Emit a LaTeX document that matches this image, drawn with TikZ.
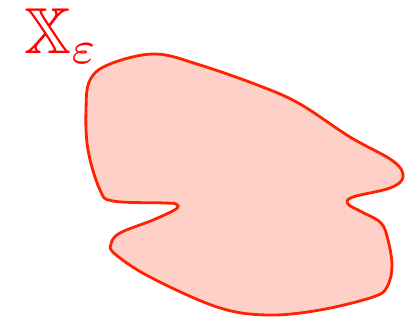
\documentclass[tikz,border=0pt]{standalone}
\usepackage{amssymb}
\definecolor{blobline}{RGB}{255,34,0}
\definecolor{blobfill}{RGB}{255,208,200}
\begin{document}
\begin{tikzpicture}[x=1pt,y=-1pt,
  blob/.style={draw=blobline,fill=blobfill,line width=2.8pt},
  lab/.style={text=red,inner sep=0pt,scale=6.5,transform shape}]
\useasboundingbox (0,0) rectangle (418,321);
\draw[blob] plot[smooth cycle,tension=0.6] coordinates {
(155,54) (200,65) (260,86) (300,104) (350,137) (393,161) (403,177) (390,188)
(353,197) (348,204) (362,212) (381,223) (388,240) (392,266) (387,287) (373,297)
(320,310) (267,315) (217,307) (150,277) (115,254) (111,244) (120,233) (153,220)
(176,209) (176,204) (165,203) (113,201) (100,190) (88,150) (86,110) (90,80) (110,64)};
\node[lab,anchor=base west] (X) at (23,54) {$\mathbb{X}_{\varepsilon}$};
\end{tikzpicture}
\end{document}
